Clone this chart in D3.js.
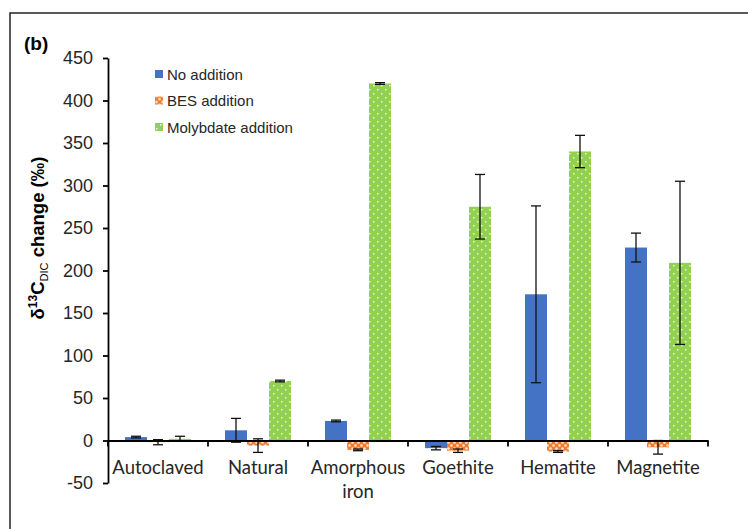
<!DOCTYPE html>
<meta charset="utf-8">
<body style="margin:0;background:#fff">
<script src="https://cdn.jsdelivr.net/npm/d3@7"></script>
<script>

var categories = ["Autoclaved", "Natural", "Amorphous iron", "Goethite", "Hematite", "Magnetite"];
var series = ["No addition", "BES addition", "Molybdate addition"];
var noAddition   = [4, 12, 23, -9, 172, 227];
var noAdditionErr = [1, 14, 1, 2, 104, 17];
var besAddition  = [-2, -6, -11, -12, -13, -8];
var besAdditionErr = [3, 8, 1, 2, 1, 8];
var molybdate    = [2, 70, 420, 275, 340, 209];
var molybdateErr = [3, 1, 1, 38, 19, 96];
var yTicks = [-50, 0, 50, 100, 150, 200, 250, 300, 350, 400, 450];

var values = [noAddition, besAddition, molybdate];
var errors = [noAdditionErr, besAdditionErr, molybdateErr];
var fills = ["#4472c4", "url(#besDots)", "url(#molyDots)"];

var width = 748, height = 529;

var svg = d3.select("body").append("svg")
  .attr("width", width)
  .attr("height", height);

// fill patterns
var defs = svg.append("defs");
var p1 = defs.append("pattern").attr("id", "besDots")
  .attr("patternUnits", "userSpaceOnUse").attr("width", 6).attr("height", 6);
p1.append("rect").attr("width", 6).attr("height", 6).attr("fill", "#ed7d31");
p1.append("circle").attr("cx", 1.5).attr("cy", 1.5).attr("r", 1.3).attr("fill", "#fff").attr("opacity", 0.8);
p1.append("circle").attr("cx", 4.5).attr("cy", 4.5).attr("r", 1.3).attr("fill", "#fff").attr("opacity", 0.8);

var p2 = defs.append("pattern").attr("id", "molyDots")
  .attr("patternUnits", "userSpaceOnUse").attr("width", 8).attr("height", 8);
p2.append("rect").attr("width", 8).attr("height", 8).attr("fill", "#92d050");
p2.append("rect").attr("x", 1).attr("y", 1).attr("width", 1.5).attr("height", 1.5).attr("fill", "#fff").attr("opacity", 0.85);
p2.append("rect").attr("x", 5).attr("y", 5).attr("width", 1.5).attr("height", 1.5).attr("fill", "#fff").attr("opacity", 0.85);

// frame
svg.append("path")
  .attr("d", "M10," + height + "V13H" + width)
  .attr("fill", "none").attr("stroke", "#222").attr("stroke-width", 1.5);

var x0 = d3.scaleBand().domain(categories).range([108, 708]);
var x1 = d3.scaleBand().domain(series).range([17, 83]);
var y = d3.scaleLinear().domain([-50, 450]).range([483, 58]);

// bars
var groups = svg.selectAll("g.series").data(series).enter().append("g")
  .attr("class", "series");

groups.each(function(s, si) {
  var g = d3.select(this);
  var data = categories.map(function(c, ci) {
    return {c: c, v: values[si][ci], e: errors[si][ci]};
  });
  g.selectAll("rect").data(data).enter().append("rect")
    .attr("x", function(d) { return x0(d.c) + x1(s); })
    .attr("width", x1.bandwidth())
    .attr("y", function(d) { return y(Math.max(0, d.v)); })
    .attr("height", function(d) { return Math.abs(y(d.v) - y(0)); })
    .attr("fill", fills[si]);
});

// error bars
groups.each(function(s, si) {
  var g = d3.select(this);
  var data = categories.map(function(c, ci) {
    return {c: c, v: values[si][ci], e: errors[si][ci]};
  });
  var eb = g.selectAll("g.err").data(data).enter().append("g").attr("class", "err")
    .attr("stroke", "#111").attr("stroke-width", 1.3);
  var cx = function(d) { return x0(d.c) + x1(s) + x1.bandwidth() / 2; };
  eb.append("line")
    .attr("x1", cx).attr("x2", cx)
    .attr("y1", function(d) { return y(d.v + d.e); })
    .attr("y2", function(d) { return y(d.v - d.e); });
  eb.append("line")
    .attr("x1", function(d) { return cx(d) - 5; }).attr("x2", function(d) { return cx(d) + 5; })
    .attr("y1", function(d) { return y(d.v + d.e); })
    .attr("y2", function(d) { return y(d.v + d.e); });
  eb.append("line")
    .attr("x1", function(d) { return cx(d) - 5; }).attr("x2", function(d) { return cx(d) + 5; })
    .attr("y1", function(d) { return y(d.v - d.e); })
    .attr("y2", function(d) { return y(d.v - d.e); });
});

// y axis
var yAxis = svg.append("g")
  .attr("transform", "translate(108,0)")
  .call(d3.axisLeft(y).tickValues(yTicks).tickFormat(function(d) { return String(d); })
    .tickSize(5).tickSizeOuter(0).tickPadding(10));
yAxis.select(".domain").attr("stroke", "#000").attr("stroke-width", 1.8);
yAxis.selectAll(".tick line").attr("stroke", "#000").attr("stroke-width", 1.8);
yAxis.selectAll("text")
  .attr("font-family", "Liberation Sans, Arial, sans-serif")
  .attr("font-size", 18).attr("fill", "#262626");

// x axis at zero
var xAxis = svg.append("g")
  .attr("transform", "translate(0," + y(0) + ")")
  .call(d3.axisBottom(x0).tickSize(0).tickPadding(0));
xAxis.select(".domain").attr("stroke", "#000").attr("stroke-width", 1.8);
xAxis.selectAll(".tick text").remove();
xAxis.selectAll("line.sep").data(x0.domain().concat(["end"])).enter().append("line")
  .attr("class", "sep")
  .attr("x1", function(d, i) { return 108 + i * x0.bandwidth(); })
  .attr("x2", function(d, i) { return 108 + i * x0.bandwidth(); })
  .attr("y1", 0).attr("y2", 6)
  .attr("stroke", "#000").attr("stroke-width", 1.8);

var labels = svg.append("g").selectAll("text").data(categories).enter().append("text")
  .attr("x", function(d) { return x0(d) + x0.bandwidth() / 2; })
  .attr("y", 474)
  .attr("text-anchor", "middle")
  .attr("font-family", "Lato, Carlito, sans-serif")
  .attr("font-size", 18.5).attr("fill", "#262626");
labels.each(function(d) {
  var t = d3.select(this);
  var parts = d === "Amorphous iron" ? ["Amorphous", "iron"] : [d];
  parts.forEach(function(p, i) {
    t.append("tspan").attr("x", t.attr("x")).attr("dy", i ? 24 : 0).text(p);
  });
});

// y axis title
var title = svg.append("text")
  .attr("transform", "translate(44,238) rotate(-90)")
  .attr("text-anchor", "middle")
  .attr("font-family", "Liberation Sans, Arial, sans-serif")
  .attr("font-weight", "bold").attr("font-size", 18.5).attr("fill", "#000");
title.append("tspan").text("δ");
title.append("tspan").attr("font-size", 12).attr("dy", -7).text("13");
title.append("tspan").attr("dy", 7).text("C");
title.append("tspan").attr("font-size", 11).attr("font-weight", "normal").attr("dy", 4).text("DIC");
title.append("tspan").attr("dy", -4).text(" change (‰)");

// panel label
svg.append("text").attr("x", 24).attr("y", 50)
  .attr("font-family", "Liberation Sans, Arial, sans-serif")
  .attr("font-weight", "bold").attr("font-size", 19).attr("fill", "#000")
  .text("(b)");

// legend
var legend = svg.append("g").selectAll("g").data(series).enter().append("g")
  .attr("transform", function(d, i) { return "translate(155," + (74 + i * 26.5) + ")"; });
legend.append("rect").attr("x", 0).attr("y", -4).attr("width", 8).attr("height", 8)
  .attr("fill", function(d, i) { return fills[i]; });
legend.append("text").attr("x", 12).attr("y", 5.5)
  .attr("font-family", "Liberation Sans, Arial, sans-serif")
  .attr("font-size", 15).attr("fill", "#262626")
  .text(function(d) { return d; });

</script>
</body>
